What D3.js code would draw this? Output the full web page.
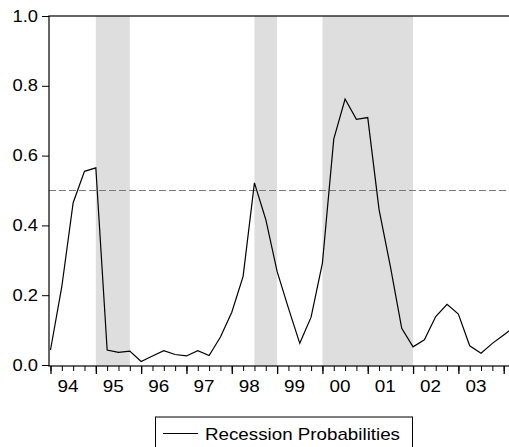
<!DOCTYPE html>
<html>
<head>
<meta charset="utf-8">
<script src="https://cdn.jsdelivr.net/npm/d3@7"></script>
<style>
  body { margin: 0; background: #fff; }
  svg { display: block; font-family: "Liberation Sans", Arial, sans-serif; }
</style>
</head>
<body>
<svg id="chart"></svg>
<script>
// quarterly observations 1994Q1 .. 2004Q2
var quarters = [
  "94Q1","94Q2","94Q3","94Q4","95Q1","95Q2","95Q3","95Q4",
  "96Q1","96Q2","96Q3","96Q4","97Q1","97Q2","97Q3","97Q4",
  "98Q1","98Q2","98Q3","98Q4","99Q1","99Q2","99Q3","99Q4",
  "00Q1","00Q2","00Q3","00Q4","01Q1","01Q2","01Q3","01Q4",
  "02Q1","02Q2","02Q3","02Q4","03Q1","03Q2","03Q3","03Q4",
  "04Q1","04Q2"
];
var probabilities = [
  0.043, 0.225, 0.465, 0.555, 0.565, 0.043, 0.036, 0.040,
  0.010, 0.026, 0.041, 0.030, 0.026, 0.041, 0.027, 0.080,
  0.151, 0.254, 0.522, 0.417, 0.268, 0.163, 0.062, 0.137,
  0.292, 0.647, 0.762, 0.704, 0.709, 0.445, 0.282, 0.105,
  0.052, 0.072, 0.139, 0.174, 0.146, 0.055, 0.034, 0.062,
  0.086, 0.110
];
var yearLabels = ["94","95","96","97","98","99","00","01","02","03"];
var recessionStart = ["95Q1","98Q3","00Q1"];
var recessionEnd   = ["95Q4","99Q1","02Q1"];
var threshold = 0.5;
var yTicks = [0, 0.2, 0.4, 0.6, 0.8, 1.0];
var seriesName = "Recession Probabilities";

(function() { // wrapper, keeps names like "top" off window

var W = 509, H = 447;
var pLeft = 49, pTop = 16, pRight = 516, pBottom = 366;

var svg = d3.select("#chart").attr("width", W).attr("height", H);
svg.append("rect").attr("width", W).attr("height", H).attr("fill", "#fff");

var x = d3.scaleLinear()
  .domain([0, quarters.length - 1])
  .range([50.5, 50.5 + 11.33 * (quarters.length - 1)]);

var y = d3.scaleLinear()
  .domain([0, 1])
  .range([365, 16]);

function qi(q) { return quarters.indexOf(q); }

// recession shading
svg.append("g").selectAll("rect")
  .data(recessionStart.map(function(s, i) { return [qi(s), qi(recessionEnd[i])]; }))
  .enter().append("rect")
    .attr("x", function(d) { return x(d[0]); })
    .attr("width", function(d) { return x(d[1]) - x(d[0]); })
    .attr("y", pTop)
    .attr("height", pBottom - pTop)
    .attr("fill", "#dedede");

// 0.5 threshold
svg.append("line")
  .attr("x1", pLeft).attr("x2", pRight)
  .attr("y1", y(threshold)).attr("y2", y(threshold))
  .attr("stroke", "#7a7a7a")
  .attr("stroke-width", 1)
  .attr("stroke-dasharray", "7,3");

// series
var line = d3.line()
  .x(function(d, i) { return x(i); })
  .y(function(d) { return y(d); });

svg.append("path")
  .datum(probabilities)
  .attr("d", line)
  .attr("fill", "none")
  .attr("stroke", "#000")
  .attr("stroke-width", 1.2);

// frame
svg.append("rect")
  .attr("x", pLeft).attr("y", pTop)
  .attr("width", pRight - pLeft).attr("height", pBottom - pTop)
  .attr("fill", "none")
  .attr("stroke", "#000")
  .attr("stroke-width", 1.2);

// y axis
var yAxis = svg.append("g")
  .attr("transform", "translate(" + pLeft + ",0)")
  .call(d3.axisLeft(y).tickValues(yTicks).tickFormat(d3.format(".1f"))
    .tickSize(7).tickPadding(4).tickSizeOuter(0));
yAxis.select(".domain").remove();
yAxis.selectAll("text")
  .attr("font-size", 16).attr("font-family", null).attr("fill", "#000")
  .attr("textLength", 25.5).attr("lengthAdjust", "spacingAndGlyphs");
yAxis.selectAll("line").attr("stroke", "#000");

// x axis: quarter ticks, year ticks, labels
var minor = svg.append("g")
  .attr("transform", "translate(0," + pBottom + ")")
  .call(d3.axisBottom(x).tickValues(d3.range(quarters.length)).tickSize(5).tickFormat(""));
minor.select(".domain").remove();

var major = svg.append("g")
  .attr("transform", "translate(0," + pBottom + ")")
  .call(d3.axisBottom(x)
    .tickValues(quarters.map(function(q, i) { return q.slice(2) === "Q1" ? i : null; })
      .filter(function(d) { return d !== null; }))
    .tickSize(8).tickFormat(""));
major.select(".domain").remove();
major.selectAll("line").attr("stroke-width", 1.3);

var labels = svg.append("g")
  .attr("transform", "translate(0," + pBottom + ")")
  .call(d3.axisBottom(x)
    .tickValues(yearLabels.map(function(yr) { return qi(yr + "Q1") + 1.5; }))
    .tickSize(0).tickPadding(14.5)
    .tickFormat(function(d) { return quarters[Math.floor(d)].slice(0, 2); }));
labels.select(".domain").remove();
labels.selectAll("text")
  .attr("font-size", 16).attr("font-family", null).attr("fill", "#000")
  .attr("textLength", 21).attr("lengthAdjust", "spacingAndGlyphs");

// legend
var legend = svg.append("g");
legend.append("rect")
  .attr("x", 155.5).attr("y", 417)
  .attr("width", 257).attr("height", 40)
  .attr("fill", "#fff").attr("stroke", "#000").attr("stroke-width", 1);
legend.append("line")
  .attr("x1", 163).attr("x2", 198)
  .attr("y1", 433.5).attr("y2", 433.5)
  .attr("stroke", "#000").attr("stroke-width", 1.2);
legend.append("text")
  .attr("x", 205).attr("y", 439.5)
  .attr("font-size", 17)
  .attr("textLength", 195).attr("lengthAdjust", "spacingAndGlyphs")
  .text(seriesName);

})();
</script>
</body>
</html>
